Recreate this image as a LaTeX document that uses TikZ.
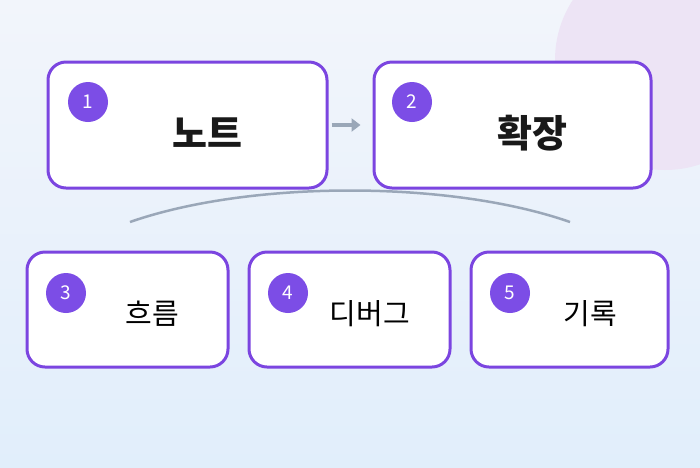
\documentclass[tikz,border=0pt]{standalone}
\usepackage{fontspec}
\newfontfamily\cjk{Noto Sans CJK KR}
\usetikzlibrary{arrows.meta}
\definecolor{boxline}{HTML}{7B45E0}
\definecolor{badge}{HTML}{7C4DE6}
\definecolor{linkgray}{HTML}{9AA7B8}
\definecolor{bgtop}{HTML}{F2F5FB}
\definecolor{bgbot}{HTML}{E1EEFB}
\definecolor{blob}{HTML}{EDE4F5}

\tikzset{
    card/.style={draw=boxline, line width=3pt, fill=white, rounded corners=18pt, inner sep=0pt},
    num/.style={circle, fill=badge, text=white, minimum size=40pt, inner sep=0pt, font=\cjk\fontsize{19}{19}\selectfont},
    title/.style={font=\cjk\bfseries\fontsize{38}{38}\selectfont, text=black!90},
    label/.style={font=\cjk\fontsize{29}{29}\selectfont, text=black}
}

\begin{document}
\begin{tikzpicture}[x=1pt, y=-1pt]
    % Background
    \useasboundingbox (0,0) rectangle (700,467);
    \clip (0,0) rectangle (700,467);
    \shade[top color=bgtop, bottom color=bgbot] (0,0) rectangle (700,467);
    \fill[blob] (665,60) circle (110pt);

    % Top row
    \node[card, minimum width=279pt, minimum height=126pt] (note) at (187.5,125) {};
    \node[card, minimum width=277pt, minimum height=126pt] (ext) at (512.5,125) {};
    \node[title] (notetext) at (207,133) {노트};
    \node[title] (exttext) at (532,133) {확장};
    \node[num] (n1) at (88,102) {1};
    \node[num] (n2) at (412,102) {2};

    % Bottom row
    \node[card, minimum width=201pt, minimum height=115pt] (flow) at (127.5,309.5) {};
    \node[card, minimum width=201pt, minimum height=115pt] (debug) at (349.5,309.5) {};
    \node[card, minimum width=197pt, minimum height=115pt] (log) at (569.5,309.5) {};
    \node[label] (flowtext) at (152,314) {흐름};
    \node[label] (debugtext) at (370,314) {디버그};
    \node[label] (logtext) at (590,314) {기록};
    \node[num] (n3) at (66,293) {3};
    \node[num] (n4) at (288,293) {4};
    \node[num] (n5) at (510,293) {5};

    % Connectors
    \draw[-{Triangle[length=9pt, width=13pt]}, linkgray, line width=4pt, shorten <=3pt, shorten >=12pt] (note.east) -- (ext.west);
    \coordinate (arcl) at (130,222);
    \coordinate (arcr) at (570,222);
    \draw[linkgray, line width=2.5pt] (arcl) .. controls (250,180) and (450,180) .. (arcr);
\end{tikzpicture}
\end{document}
